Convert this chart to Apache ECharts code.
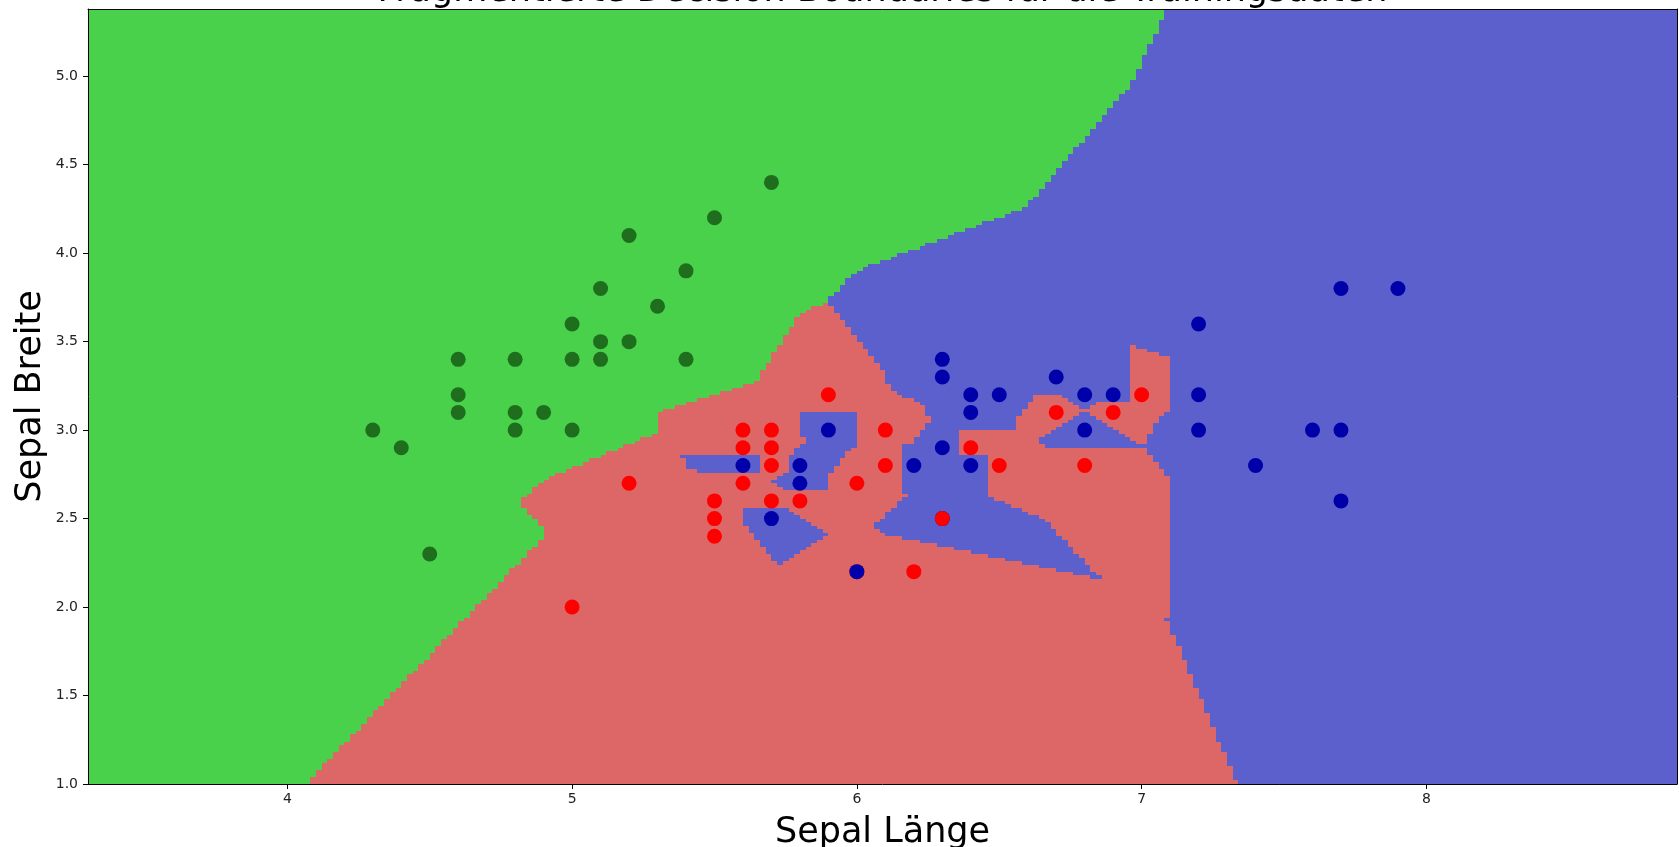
<!DOCTYPE html>
<html>
<head>
<meta charset="utf-8">
<title>Decision Boundaries</title>
<script src="https://cdn.jsdelivr.net/npm/echarts@6/dist/echarts.min.js"></script>
<style>
    html, body { margin: 0; padding: 0; background: #fff; }
    #chart { width: 1679px; height: 847px; }
</style>
</head>
<body>
<div id="chart"></div>
<script>
// Trainingsdaten in Reihenfolge des Trainingssets
// (bei doppelten Punkten zählt für die Region der erste, gezeichnet wird der letzte oben)
var speciesNames = ['setosa', 'versicolor', 'virginica'];

var sepalLength = [
    4.3, 4.4, 4.5, 4.6, 4.6, 4.6, 4.8, 4.8, 4.8, 4.9, 5.0, 5.0, 5.0, 5.1, 5.1, 5.1, 5.2, 5.2, 5.3, 5.4, 5.4, 5.5, 5.7,
    6.3,
    5.0, 5.2, 5.5, 5.5, 5.5, 5.6, 5.6, 5.6, 5.7, 5.7, 5.7, 5.7, 5.8, 5.9, 6.0, 6.0, 6.1, 6.1, 6.2, 6.3, 6.4, 6.5, 6.7, 6.8, 6.9, 7.0,
    5.6, 5.7, 5.8, 5.8, 5.9, 6.0, 6.2, 6.3, 6.3, 6.3, 6.4, 6.4, 6.4, 6.5, 6.7, 6.8, 6.8, 6.9, 7.2, 7.2, 7.2, 7.4, 7.6, 7.7, 7.7, 7.7, 7.9
];
var sepalWidth = [
    3.0, 2.9, 2.3, 3.4, 3.2, 3.1, 3.4, 3.1, 3.0, 3.1, 3.6, 3.4, 3.0, 3.8, 3.5, 3.4, 4.1, 3.5, 3.7, 3.9, 3.4, 4.2, 4.4,
    2.5,
    2.0, 2.7, 2.6, 2.5, 2.4, 3.0, 2.9, 2.7, 3.0, 2.9, 2.8, 2.6, 2.6, 3.2, 2.7, 2.2, 3.0, 2.8, 2.2, 2.5, 2.9, 2.8, 3.1, 2.8, 3.1, 3.2,
    2.8, 2.5, 2.8, 2.7, 3.0, 2.2, 2.8, 3.4, 3.3, 2.9, 3.2, 3.1, 2.8, 3.2, 3.3, 3.2, 3.0, 3.2, 3.6, 3.2, 3.0, 2.8, 3.0, 3.8, 3.0, 2.6, 3.8
];
var species = [
    0, 0, 0, 0, 0, 0, 0, 0, 0, 0, 0, 0, 0, 0, 0, 0, 0, 0, 0, 0, 0, 0, 0,
    2,
    1, 1, 1, 1, 1, 1, 1, 1, 1, 1, 1, 1, 1, 1, 1, 1, 1, 1, 1, 1, 1, 1, 1, 1, 1, 1,
    2, 2, 2, 2, 2, 2, 2, 2, 2, 2, 2, 2, 2, 2, 2, 2, 2, 2, 2, 2, 2, 2, 2, 2, 2, 2, 2
];

var xTicks = [4, 5, 6, 7, 8];
var yTicks = [1.0, 1.5, 2.0, 2.5, 3.0, 3.5, 4.0, 4.5, 5.0];

// Gitter fuer die Entscheidungsflaeche (wie np.arange(min, max, h))
var meshH = 0.02;
var meshX0 = 3.3, meshNx = 280;
var meshY0 = 1.0, meshNy = 220;

var regionColors = ['#49d14c', '#dd6666', '#5c60cc'];
var pointColors = ['#1e6e1e', '#ff0000', '#0000aa'];

// 1-NN Klassifikation an den Gitterpunkten
function predict(px, py) {
    var best = Infinity, cls = 0;
    for (var k = 0; k < sepalLength.length; k++) {
        var dx = px - sepalLength[k], dy = py - sepalWidth[k];
        var d = dx * dx + dy * dy;
        if (d < best) {
            best = d;
            cls = species[k];
        }
    }
    return cls;
}

// arange wie numpy: start + i * (start+step - start)
function arange(start, n, step) {
    var delta = (start + step) - start;
    var out = [start, start + step];
    for (var i = 2; i < n; i++) out.push(start + i * delta);
    return out;
}
var meshXs = arange(meshX0, meshNx, meshH);
var meshYs = arange(meshY0, meshNy, meshH);

// Zellen zeilenweise zusammenfassen
var cells = [];
for (var i = 0; i < meshNy - 1; i++) {
    var start = 0;
    var cur = predict(meshXs[0], meshYs[i]);
    for (var j = 1; j < meshNx - 1; j++) {
        var c = predict(meshXs[j], meshYs[i]);
        if (c !== cur) {
            cells.push([meshXs[start], meshXs[j], meshYs[i], meshYs[i + 1], cur]);
            start = j;
            cur = c;
        }
    }
    cells.push([meshXs[start], meshXs[meshNx - 1], meshYs[i], meshYs[i + 1], cur]);
}

var points = sepalLength.map(function (x, k) {
    return [x, sepalWidth[k], species[k]];
});

var myChart = echarts.init(document.getElementById('chart'));

var option = {
    animation: false,
    textStyle: { fontFamily: 'DejaVu Sans' },
    grid: {
        left: 88,
        right: 2,
        top: 9,
        bottom: 63,
        containLabel: false,
        outerBoundsMode: 'none'
    },
    xAxis: [
        {
            type: 'value',
            min: 3.3,
            max: 8.88,
            position: 'bottom',
            z: 10,
            name: 'Sepal Länge',
            nameLocation: 'middle',
            nameGap: 31,
            nameMoveOverlap: false,
            nameTextStyle: { fontSize: 35, color: '#000' },
            axisLine: { show: true, onZero: false, lineStyle: { color: '#000', width: 1 } },
            axisTick: { show: true, length: 5, customValues: xTicks, lineStyle: { color: '#000' } },
            axisLabel: {
                customValues: xTicks,
                fontSize: 14,
                margin: 8,
                color: '#222',
                formatter: function (v) { return String(v); }
            },
            splitLine: { show: false }
        },
        {
            type: 'value',
            min: 3.3,
            max: 8.88,
            position: 'top',
            z: 10,
            name: 'Fragmentierte Decision Boundaries für die Trainingsdaten',
            nameLocation: 'middle',
            nameGap: 0,
            nameMoveOverlap: false,
            nameTextStyle: { fontSize: 35, color: '#000' },
            axisLine: { show: true, onZero: false, lineStyle: { color: '#000', width: 1 } },
            axisTick: { show: false },
            axisLabel: { show: false },
            splitLine: { show: false }
        }
    ],
    yAxis: [
        {
            type: 'value',
            min: 1.0,
            max: 5.38,
            position: 'left',
            z: 10,
            name: 'Sepal Breite',
            nameLocation: 'middle',
            nameGap: 40,
            nameMoveOverlap: false,
            nameTextStyle: { fontSize: 35, color: '#000' },
            axisLine: { show: true, onZero: false, lineStyle: { color: '#000', width: 1 } },
            axisTick: { show: true, length: 5, customValues: yTicks, lineStyle: { color: '#000' } },
            axisLabel: {
                customValues: yTicks,
                fontSize: 14,
                margin: 10,
                color: '#222',
                formatter: function (v) { return v.toFixed(1); }
            },
            splitLine: { show: false }
        },
        {
            type: 'value',
            min: 1.0,
            max: 5.38,
            position: 'right',
            z: 10,
            axisLine: { show: true, onZero: false, lineStyle: { color: '#000', width: 1 } },
            axisTick: { show: false },
            axisLabel: { show: false },
            splitLine: { show: false }
        }
    ],
    series: [
        {
            type: 'custom',
            name: 'Regionen',
            xAxisIndex: 0,
            yAxisIndex: 0,
            clip: true,
            silent: true,
            progressive: 0,
            z: 1,
            encode: { x: [0, 1], y: [2, 3] },
            data: cells,
            renderItem: function (params, api) {
                var p0 = api.coord([api.value(0), api.value(2)]);
                var p1 = api.coord([api.value(1), api.value(3)]);
                var x0 = Math.round(p0[0]), x1 = Math.round(p1[0]);
                var yb = Math.round(p0[1]), yt = Math.round(p1[1]);
                return {
                    type: 'rect',
                    shape: { x: x0, y: yt, width: x1 - x0, height: yb - yt },
                    style: { fill: regionColors[api.value(4)] }
                };
            }
        },
        {
            type: 'scatter',
            name: 'Trainingsdaten',
            xAxisIndex: 0,
            yAxisIndex: 0,
            z: 3,
            symbol: 'circle',
            symbolSize: 15,
            data: points,
            itemStyle: {
                opacity: 1,
                color: function (p) { return pointColors[p.data[2]]; }
            }
        }
    ]
};

myChart.setOption(option);
window.addEventListener('resize', function () {
    myChart.resize();
});
</script>
</body>
</html>
